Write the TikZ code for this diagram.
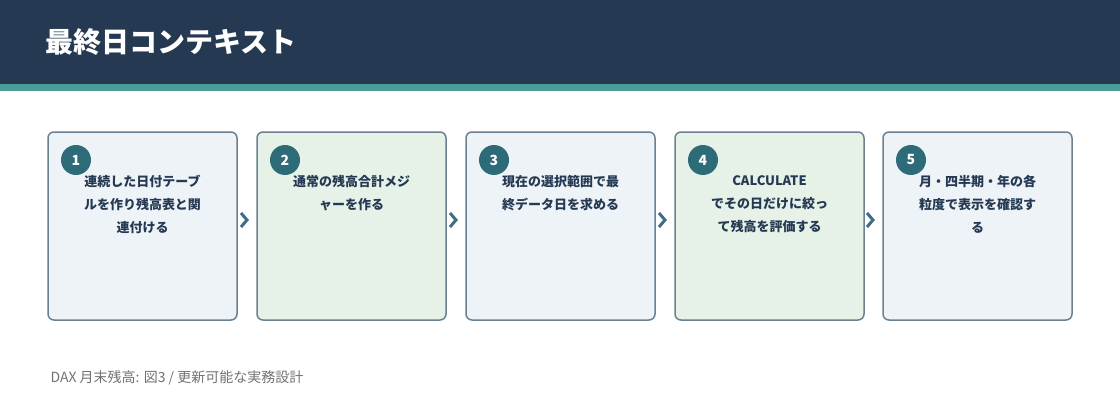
\documentclass[tikz,border=0pt]{standalone}
\usepackage{fontspec}
\setmainfont{Noto Sans CJK JP}
\begin{document}
\begin{tikzpicture}[x=1pt,y=-1pt,
 box/.style={draw=black!30!gray!80!blue!60, draw=boxline, line width=1.5pt, rounded corners=6pt},
 num/.style={circle, fill=teal0, minimum size=30pt, inner sep=0pt, text=white, font=\fontsize{14}{14}\selectfont\bfseries},
 txt/.style={align=center, text=navy, font=\fontsize{13}{23}\selectfont\bfseries, anchor=north},
 chev/.style={draw=chevc, line width=3pt, line cap=butt}]
\definecolor{navy}{HTML}{253A52}
\definecolor{teal0}{HTML}{2E6B78}
\definecolor{stripe}{HTML}{4A9E9A}
\definecolor{boxline}{HTML}{6B8090}
\definecolor{fa}{HTML}{EEF3F8}
\definecolor{fb}{HTML}{E6F1E8}
\definecolor{chevc}{HTML}{3F6E86}
\useasboundingbox (0,0) rectangle (1120,420);
\fill[white] (0,0) rectangle (1120,420);
\fill[navy] (0,0) rectangle (1120,84);
\fill[stripe] (0,84) rectangle (1120,91);
\node[anchor=west,text=white,font=\fontsize{28}{28}\selectfont\bfseries] (title) at (42,42) {最終日コンテキスト};
\foreach \i/\x/\c/\t in {1/48/fa/{連続した日付テーブ\\ルを作り残高表と関\\連付ける},
 2/257/fb/{通常の残高合計メジ\\ャーを作る},
 3/466/fa/{現在の選択範囲で最\\終データ日を求める},
 4/675/fb/{CALCULATE\\でその日だけに絞っ\\て残高を評価する},
 5/883/fa/{月・四半期・年の各\\粒度で表示を確認す\\る}}{
 \draw[box, fill=\c] (\x,132) rectangle ++(189,188);
 \node[num] (n\i) at (\x+28,160) {\i};
 \node[txt] (t\i) at (\x+94.5,172) {\t};
}
\foreach \x/\n in {244/a,453/b,662/c,870/d}{
 \coordinate (\n1) at (\x-3,213); \coordinate (\n2) at (\x+3,220); \coordinate (\n3) at (\x-3,227);
 \draw[chev] (\n1) -- (\n2) -- (\n3);
}
\node[anchor=west,text=gray!90!black,font=\fontsize{14}{14}\selectfont] (foot) at (47,378) {DAX 月末残高: 図3 / 更新可能な実務設計};
\end{tikzpicture}
\end{document}
